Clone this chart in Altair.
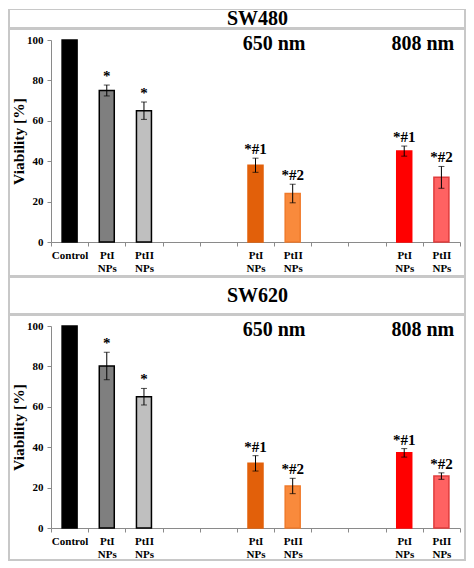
import altair as alt
import pandas as pd

# ---- data ----
slots = ["c0", "c1", "c2", "c3", "c4", "c5", "c6", "c7", "c8", "c9", "c10"]
bar_slots = ["c0", "c1", "c2", "c5", "c6", "c9", "c10"]
bar_groups = ["Control", "PtI gray", "PtII gray", "PtI 650", "PtII 650", "PtI 808", "PtII 808"]
fills = ["#000000", "#7f7f7f", "#bfbfbf", "#e2600a", "#f98a3c", "#ff0000", "#ff6262"]
strokes = ["#000000", "#000000", "#000000", "#e2600a", "#f07a2a", "#ff0000", "#e03c3c"]
annotations = ["", "*", "*", "*#1", "*#2", "*#1", "*#2"]

sw480_mean = [100, 75, 65, 38, 24, 45, 32]
sw480_err = [0, 2.7, 4.3, 3.5, 4.6, 2.5, 5.4]
sw620_mean = [100, 80.2, 65, 32, 20.8, 37.2, 25.7]
sw620_err = [0, 6.8, 4.1, 3.8, 3.8, 2.1, 1.6]

wavelength_labels = ["650 nm", "808 nm"]
wavelength_slots = ["c5", "c9"]
y_ticks = [0, 20, 40, 60, 80, 100]
panel_titles = ["SW480", "SW620"]

W = 409
H = 202
SERIF = "Liberation Serif"
GRAY = "#c8c8c8"
YTITLE_SIZE = 15.5

label_expr = (
    "datum.value == 'c0' ? 'Control' : "
    "(indexof(['c1','c5','c9'], datum.value) >= 0 ? ['PtI','NPs'] : "
    "(indexof(['c2','c6','c10'], datum.value) >= 0 ? ['PtII','NPs'] : ''))"
)


def strip(df_one, x1, x2, y1, y2):
    return alt.Chart(df_one).mark_rect(color=GRAY).encode(
        x=alt.value(x1), x2=alt.value(x2), y=alt.value(y1), y2=alt.value(y2)
    )


def panel(title, means, errs, top_gray, bottom_gray, sep_y1, sep_y2, bottom_edge, title_y):
    df = pd.DataFrame({
        "slot": bar_slots,
        "group": bar_groups,
        "mean": means,
        "lo": [m - e for m, e in zip(means, errs)],
        "hi": [m + e for m, e in zip(means, errs)],
        "ann": annotations,
    })
    df_err = df[df["group"] != "Control"]
    df_wl = pd.DataFrame({"slot": wavelength_slots, "label": wavelength_labels, "y": [98, 98]})
    df_one = pd.DataFrame({"t": [title]})

    xscale = alt.Scale(domain=slots, paddingInner=0, paddingOuter=0)
    yscale = alt.Scale(domain=[0, 100], nice=False)

    xenc = alt.X(
        "slot:N",
        sort=slots,
        scale=xscale,
        axis=alt.Axis(title=None, labelExpr=label_expr, labelOverlap=False),
    )
    yenc = alt.Y(
        "mean:Q",
        scale=yscale,
        axis=alt.Axis(
            title="Viability [%]",
            values=y_ticks,
            titleFontSize=YTITLE_SIZE,
            titleFont=SERIF,
            titleFontWeight="bold",
        ),
    )
    xo = alt.X("slot:N", sort=slots, scale=xscale, title=None)

    layers = [
        strip(df_one, -43, W + 6, top_gray, top_gray + 1),          # top edge
        strip(df_one, -43, -41, top_gray, bottom_gray),             # left edge
        strip(df_one, W + 4, W + 6, top_gray, bottom_gray),         # right edge
        strip(df_one, -43, W + 6, sep_y1, sep_y2),                  # title separator
        strip(df_one, -43, W + 6, bottom_edge, bottom_gray),        # bottom edge
    ]
    title_text = alt.Chart(df_one).mark_text(
        font=SERIF, fontWeight="bold", fontSize=20, color="#000000", align="center", baseline="middle"
    ).encode(x=alt.value(W / 2 + 2), y=alt.value(title_y), text="t:N")

    bars = alt.Chart(df).mark_bar(size=15, strokeWidth=1.5).encode(
        x=xenc,
        y=yenc,
        fill=alt.Fill("group:N", scale=alt.Scale(domain=bar_groups, range=fills), legend=None),
        stroke=alt.Stroke("group:N", scale=alt.Scale(domain=bar_groups, range=strokes), legend=None),
    )
    rules = alt.Chart(df_err).mark_rule(color="#000000", strokeWidth=1).encode(
        x=xo, y=alt.Y("lo:Q", scale=yscale, title="Viability [%]"), y2="hi:Q"
    )
    cap_lo = alt.Chart(df_err).mark_tick(color="#000000", size=6, thickness=1).encode(
        x=xo, y=alt.Y("lo:Q", scale=yscale, title="Viability [%]")
    )
    cap_hi = alt.Chart(df_err).mark_tick(color="#000000", size=6, thickness=1).encode(
        x=xo, y=alt.Y("hi:Q", scale=yscale, title="Viability [%]")
    )
    ann = alt.Chart(df_err).mark_text(
        font=SERIF, fontWeight="bold", fontSize=15, color="#000000", baseline="bottom", dy=-1
    ).encode(x=xo, y=alt.Y("hi:Q", scale=yscale, title="Viability [%]"), text="ann:N")
    wl = alt.Chart(df_wl).mark_text(
        font=SERIF, fontWeight="bold", fontSize=20, color="#000000", baseline="middle", align="center"
    ).encode(
        x=alt.X("slot:N", sort=slots, scale=xscale, bandPosition=1, title=None),
        y=alt.Y("y:Q", scale=yscale, title="Viability [%]"),
        text="label:N",
    )

    return alt.layer(
        bars, *layers, title_text, rules, cap_lo, cap_hi, ann, wl
    ).properties(width=W, height=H)


top = panel("SW480", sw480_mean, sw480_err,
            top_gray=-31, bottom_gray=237, sep_y1=-13, sep_y2=-10, bottom_edge=235, title_y=-21.5)
bottom = panel("SW620", sw620_mean, sw620_err,
               top_gray=-49, bottom_gray=235, sep_y1=-13, sep_y2=-10, bottom_edge=233, title_y=-30)

chart = (
    alt.vconcat(top, bottom, spacing=0)
    .properties(padding=0)
    .configure_view(stroke=None)
    .configure_axis(
        labelFont=SERIF,
        labelFontWeight="bold",
        labelFontSize=11,
        labelColor="#000000",
        tickSize=4,
        tickColor="#8a8a8a",
        domainColor="#8a8a8a",
        titleFont=SERIF,
        titleFontWeight="bold",
        titleColor="#000000",
        grid=False,
    )
    .configure_axisY(
        titleFontSize=YTITLE_SIZE,
        titleX=-33,
        titleY=H / 2,
        titleAngle=270,
        titleAlign="center",
        titleBaseline="middle",
        labelPadding=4,
    )
    .configure_axisX(
        labelAngle=0,
        labelLineHeight=13,
        labelPadding=3,
        labelBaseline="top",
        tickBand="extent",
    )
)

chart.save("out.html", embed_options={"renderer": "svg", "actions": False})
